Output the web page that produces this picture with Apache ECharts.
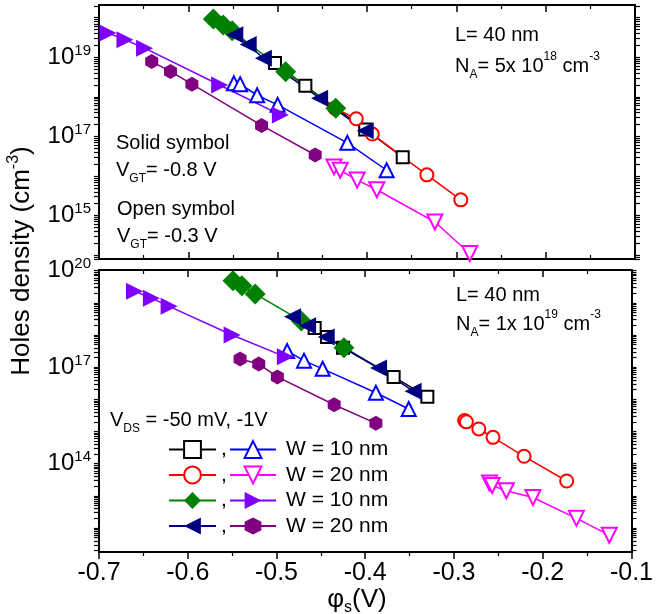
<!DOCTYPE html>
<html>
<head>
<meta charset="utf-8">
<script src="https://cdn.jsdelivr.net/npm/echarts@6/dist/echarts.min.js"></script>
<style>
  html, body { margin: 0; padding: 0; background: #fff; }
  #chart { width: 656px; height: 614px; }
</style>
</head>
<body>
<div id="chart"></div>
<script>
// [phi_s (V), hole density (cm^-3)]  — top panel: NA = 5e18, bottom panel: NA = 1e19
const topSquare   = [[-0.503, 7.2e18], [-0.469, 1.9e18], [-0.402, 1.5e17], [-0.360, 3.0e16]];
const topCircle   = [[-0.436, 5.2e17], [-0.412, 2.8e17], [-0.394, 1.15e17], [-0.333, 1.07e16], [-0.295, 2.5e15]];
const topUpTri    = [[-0.549, 2.2e18], [-0.542, 2.1e18], [-0.523, 1.1e18], [-0.500, 6.3e17], [-0.422, 6.9e16], [-0.378, 1.4e16]];
const topDownTri  = [[-0.437, 1.7e16], [-0.430, 1.4e16], [-0.411, 7.9e15], [-0.389, 4.5e15], [-0.324, 6.9e14], [-0.285, 1.1e14]];
const topDiamond  = [[-0.572, 9.3e19], [-0.561, 6.6e19], [-0.551, 4.7e19], [-0.491, 4.3e18], [-0.435, 5.2e17]];
const topRightTri = [[-0.690, 4.1e19], [-0.671, 2.8e19], [-0.649, 1.7e19], [-0.565, 2.0e18], [-0.497, 3.5e17]];
const topLeftTri  = [[-0.548, 3.7e19], [-0.533, 2.1e19], [-0.516, 9.5e18], [-0.453, 9.3e17], [-0.402, 1.4e17]];
const topHexagon  = [[-0.641, 7.8e18], [-0.620, 4.4e18], [-0.596, 2.1e18], [-0.518, 1.9e17], [-0.458, 3.4e16]];

const botSquare   = [[-0.457, 1.66e18], [-0.443, 8.7e17], [-0.425, 4.0e17], [-0.368, 5.0e16], [-0.330, 1.2e16]];
const botCircle   = [[-0.288, 2.2e15], [-0.286, 2.0e15], [-0.272, 1.2e15], [-0.256, 6.6e14], [-0.221, 1.7e14], [-0.173, 2.9e13]];
const botUpTri    = [[-0.488, 3.2e17], [-0.469, 1.6e17], [-0.448, 8.9e16], [-0.388, 1.6e16], [-0.351, 5.0e15]];
const botDownTri  = [[-0.260, 2.5e13], [-0.257, 2.1e13], [-0.241, 1.45e13], [-0.211, 8.9e12], [-0.162, 2.0e12], [-0.125, 6.0e11]];
const botDiamond  = [[-0.549, 4.9e19], [-0.539, 3.4e19], [-0.524, 1.9e19], [-0.472, 2.75e18], [-0.424, 4.0e17]];
const botRightTri = [[-0.660, 2.3e19], [-0.641, 1.4e19], [-0.621, 7.8e18], [-0.550, 1.0e18], [-0.490, 2.1e17]];
const botLeftTri  = [[-0.482, 3.7e18], [-0.465, 1.95e18], [-0.444, 8.7e17], [-0.385, 9.5e16], [-0.346, 1.8e16]];
const botHexagon  = [[-0.541, 1.8e17], [-0.520, 1.26e17], [-0.499, 5.0e16], [-0.435, 6.8e15], [-0.388, 1.8e15]];

const xTicks = [-0.7, -0.6, -0.5, -0.4, -0.3, -0.2, -0.1];
const topLabelExp = [15, 17, 19];
const botLabelExp = [14, 17, 20];
const topDecades = [13, 14, 15, 16, 17, 18, 19, 20];
const botDecades = [11, 12, 13, 14, 15, 16, 17, 18, 19, 20];
const tickMantissa = [1, 2, 3, 4, 5, 6, 7, 8, 9];
const legendText = { utri: 'W = 10 nm', dtri: 'W = 20 nm', rtri: 'W = 10 nm', hex: 'W = 20 nm' };

const topRange = [8e13, 2.1e20];
const botRange = [1.8e11, 1.05e20];

const FF = '"Liberation Sans", Arial, sans-serif';
const HEX = 'path://M0,-10L8.66,-5L8.66,5L0,10L-8.66,5L-8.66,-5Z';

// marker looks
const st = {
  sq:   { symbol: 'emptyRect',     size: 12, color: '#000000', open: true },
  circ: { symbol: 'emptyCircle',   size: 13, color: '#ff0000', open: true },
  utri: { symbol: 'emptyTriangle', size: 14, color: '#0000ff', open: true },
  dtri: { symbol: 'emptyTriangle', size: 15, color: '#ff00ff', open: true, rotate: 180 },
  dia:  { symbol: 'diamond',       size: 21, color: '#008000' },
  rtri: { symbol: 'triangle',      size: 17, color: '#8000ff', rotate: -90 },
  ltri: { symbol: 'triangle',      size: 17, color: '#000080', rotate: 90 },
  hex:  { symbol: HEX,             size: 15, color: '#800080' },
};

function mk(name, data, g) {
  const s = st[name];
  return {
    name, type: 'line', data, xAxisIndex: g * 2, yAxisIndex: g * 2,
    symbol: s.symbol, symbolSize: s.size, symbolRotate: s.rotate || 0, symbolKeepAspect: true,
    showAllSymbol: true, clip: false,
    lineStyle: { color: s.color, width: 1.5 },
    itemStyle: { color: s.color, borderColor: s.color, borderWidth: s.open ? 1.3 : 0 },
    emphasis: { disabled: true },
  };
}

function xAx(g, pos, extra) {
  return Object.assign({
    type: 'value', gridIndex: g, position: pos, min: -0.7, max: -0.1, interval: 0.1,
    axisLine: { onZero: false, lineStyle: { color: '#000', width: 2 } },
    axisTick: { inside: true, length: 7, lineStyle: { color: '#000', width: 1.5 } },
    minorTick: { show: true, splitNumber: 2, length: 4, lineStyle: { color: '#000', width: 1.2 } },
    splitLine: { show: false },
    axisLabel: { show: false },
  }, extra);
}

// log axis: ticks at 1..9 x 10^n (listed), labels only at chosen decades
function yAx(g, pos, range, decades, labelExp) {
  const ticks = [], labels = [];
  decades.forEach(d => tickMantissa.forEach(m => {
    const v = m * Math.pow(10, d);
    if (v >= range[0] && v <= range[1]) {
      ticks.push(v);
      if (m === 1) labels.push(v);
    }
  }));
  return {
    type: 'log', logBase: 10, gridIndex: g, position: pos, min: range[0], max: range[1],
    axisLine: { show: true, onZero: false, lineStyle: { color: '#000', width: 2 } },
    axisTick: { show: true, inside: false, length: 5, customValues: ticks, lineStyle: { color: '#000', width: 1.2 } },
    splitLine: { show: false },
    axisLabel: {
      show: true, margin: 8, align: 'right', customValues: labels,
      formatter: v => {
        const e = Math.log10(v), r = Math.round(e);
        if (!labelExp || Math.abs(e - r) > 1e-6 || labelExp.indexOf(r) < 0) return '';
        return '{b|10}{s|' + r + '}';
      },
      rich: {
        b: { fontFamily: FF, fontSize: 24, lineHeight: 28, color: '#000' },
        s: { fontFamily: FF, fontSize: 15, lineHeight: 12, verticalAlign: 'top', color: '#000' },
      },
    },
  };
}

function txt(x, y, text, size) {
  return {
    type: 'text', x, y, silent: true,
    style: {
      text, verticalAlign: 'middle', align: 'left',
      rich: {
        n:   { fontFamily: FF, fontSize: size, lineHeight: 30, fill: '#000' },
        sub: { fontFamily: FF, fontSize: 12, lineHeight: 14, verticalAlign: 'bottom', fill: '#000' },
        sup: { fontFamily: FF, fontSize: 12, lineHeight: 12, verticalAlign: 'top', fill: '#000' },
      },
    },
  };
}

const chart = echarts.init(document.getElementById('chart'), null, { renderer: 'canvas' });

chart.setOption({
  animation: false,
  backgroundColor: '#fff',
  grid: [
    { left: 99, right: 21, top: 5, height: 254 },
    { left: 99, right: 21, top: 270, height: 282 },
  ],
  xAxis: [
    xAx(0, 'bottom'),
    xAx(0, 'top'),
    xAx(1, 'bottom', {
      axisTick: { inside: false, length: 7, lineStyle: { color: '#000', width: 1.5 } },
      minorTick: { show: true, splitNumber: 2, length: 4, lineStyle: { color: '#000', width: 1.2 } },
      axisLabel: {
        show: true, margin: 9, color: '#000', fontFamily: FF, fontSize: 25,
        formatter: v => xTicks.some(t => Math.abs(t - v) < 1e-9) ? v.toFixed(1) : '',
      },
    }),
    xAx(1, 'top'),
  ],
  yAxis: [
    yAx(0, 'left', topRange, topDecades, topLabelExp),
    yAx(0, 'right', topRange, topDecades, null),
    yAx(1, 'left', botRange, botDecades, botLabelExp),
    yAx(1, 'right', botRange, botDecades, null),
  ],
  legend: [
    {
      data: ['sq', 'circ', 'dia', 'ltri'], orient: 'vertical', left: 163, top: 434,
      itemWidth: 47, itemHeight: 21, itemGap: 4.5, selectedMode: false,
      textStyle: { fontFamily: FF, fontSize: 21, color: '#000' },
      formatter: () => ',',
    },
    {
      data: ['utri', 'dtri', 'rtri', 'hex'], orient: 'vertical', left: 224, top: 434,
      itemWidth: 46, itemHeight: 21, itemGap: 4.5, selectedMode: false,
      textStyle: { fontFamily: FF, fontSize: 21, color: '#000', padding: [0, 0, 0, 5] },
      formatter: n => legendText[n],
    },
  ],
  series: [
    mk('sq', topSquare, 0), mk('circ', topCircle, 0), mk('utri', topUpTri, 0), mk('dtri', topDownTri, 0),
    mk('dia', topDiamond, 0), mk('rtri', topRightTri, 0), mk('ltri', topLeftTri, 0), mk('hex', topHexagon, 0),
    mk('sq', botSquare, 1), mk('circ', botCircle, 1), mk('utri', botUpTri, 1), mk('dtri', botDownTri, 1),
    mk('dia', botDiamond, 1), mk('rtri', botRightTri, 1), mk('ltri', botLeftTri, 1), mk('hex', botHexagon, 1),
  ],
  graphic: [
    txt(455, 35, '{n|L= 40 nm}', 20),
    txt(455, 66, '{n|N}{sub|A}{n|= 5x 10}{sup|18}{n| cm}{sup|-3}', 20),
    txt(456, 295, '{n|L= 40 nm}', 20),
    txt(456, 324, '{n|N}{sub|A}{n|= 1x 10}{sup|19}{n| cm}{sup|-3}', 20),
    txt(116, 143, '{n|Solid symbol}', 20),
    txt(116, 170, '{n|V}{sub|GT}{n|= -0.8 V}', 20),
    txt(117, 209, '{n|Open symbol}', 20),
    txt(117, 236, '{n|V}{sub|GT}{n|= -0.3 V}', 20),
    txt(110, 420, '{n|V}{sub|DS}{n| = -50 mV, -1V}', 20),
    {
      type: 'text', x: 22, y: 261, rotation: Math.PI / 2, silent: true,
      style: {
        text: '{a|Holes density (cm}{u|-3}{a|)}', align: 'center', verticalAlign: 'middle',
        rich: {
          a: { fontFamily: FF, fontSize: 26, lineHeight: 32, fill: '#000' },
          u: { fontFamily: FF, fontSize: 16, lineHeight: 14, verticalAlign: 'top', fill: '#000' },
        },
      },
    },
    {
      type: 'text', x: 357, y: 600, silent: true,
      style: {
        text: '{a|\u03c6}{s|s}{a|(V)}', align: 'center', verticalAlign: 'middle',
        rich: {
          a: { fontFamily: FF, fontSize: 26, lineHeight: 32, fill: '#000' },
          s: { fontFamily: FF, fontSize: 16, lineHeight: 16, verticalAlign: 'bottom', fill: '#000' },
        },
      },
    },
  ],
});
</script>
</body>
</html>
